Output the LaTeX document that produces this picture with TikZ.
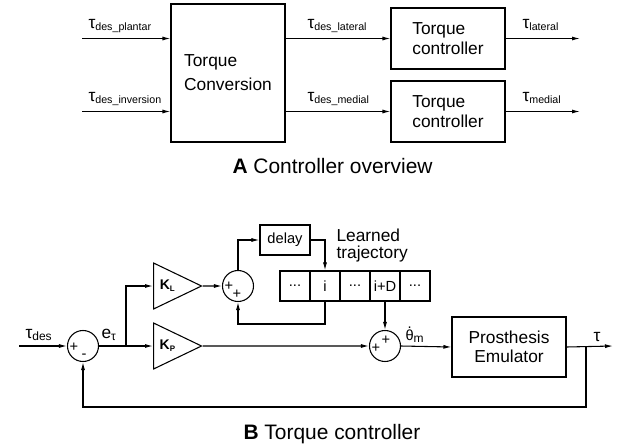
\documentclass[tikz,border=0pt]{standalone}
\usepackage{fontspec}
\setmainfont{Liberation Sans}
\usepackage{tikz}
\usetikzlibrary{arrows.meta,shapes.geometric}

% lowered subscript in a given size
\newcommand{\lsub}[2][8pt]{\raisebox{-1.5pt}{\fontsize{#1}{#1}\selectfont #2}}
% theta with a dot on top
\newcommand{\thdot}{\ooalign{θ\cr\hidewidth\raisebox{0.8em}{.}\hidewidth\cr}}

\begin{document}
\begin{tikzpicture}[x=0.75pt,y=0.75pt,yscale=-1,xscale=1,
  line width=0.8pt,
  >={Latex[length=6pt,width=3pt]},
  lbl/.style={inner sep=0pt, font=\fontsize{13pt}{15pt}\selectfont},
  blk/.style={draw, inner sep=0pt, minimum width=85.5pt},
  sumc/.style={draw, circle, minimum size=23.25pt, inner sep=0pt},
  sgn/.style={inner sep=0pt, font=\fontsize{11pt}{11pt}\selectfont},
  gain/.style={draw, isosceles triangle, isosceles triangle stretches,
    shape border rotate=0, minimum width=34.5pt, minimum height=36pt,
    inner sep=0pt, font=\fontsize{10.5pt}{12pt}\selectfont\bfseries},
  cell/.style={draw, minimum width=22.5pt, minimum height=22.5pt, inner sep=0pt,
    font=\fontsize{11pt}{13pt}\selectfont},
]
\useasboundingbox (0,0) rectangle (622,447);

%Shape: Rectangle
\node[blk, minimum height=103.5pt, align=left, font=\fontsize{13pt}{18pt}\selectfont] (conv) at (228,73) {Torque\\Conversion};
%Shape: Rectangle
\node[blk, minimum height=45.75pt, align=left, font=\fontsize{13pt}{15pt}\selectfont] (tcl) at (448,38.5) {Torque\\controller};
%Shape: Rectangle
\node[blk, minimum height=45.75pt, align=left, font=\fontsize{13pt}{15pt}\selectfont] (tcm) at (448,111.5) {Torque\\controller};

\coordinate (plantar) at (82,38.5);
\coordinate (inver) at (82,111.5);
\coordinate (latout) at (580,38.5);
\coordinate (medout) at (580,111.5);

%Straight Lines
\draw[->] (plantar) -- (plantar -| conv.west);
\draw[->] (inver) -- (inver -| conv.west);
\draw[->] (conv.east |- tcl.west) -- (tcl.west);
\draw[->] (conv.east |- tcm.west) -- (tcm.west);
\draw[->] (tcl.east) -- (latout);
\draw[->] (tcm.east) -- (medout);

% Text Node
\node[lbl, anchor=base west] (lplantar) at (88,28) {τ\lsub{des\_plantar}};
% Text Node
\node[lbl, anchor=base west] (linver) at (88,101) {τ\lsub{des\_inversion}};
% Text Node
\node[lbl, anchor=base west] (ldlat) at (307,28) {τ\lsub{des\_lateral}};
% Text Node
\node[lbl, anchor=base west] (ldmed) at (307,101) {τ\lsub{des\_medial}};
% Text Node
\node[lbl, anchor=base west] (llat) at (522,28) {τ\lsub{lateral}};
% Text Node
\node[lbl, anchor=base west] (lmed) at (522,101) {τ\lsub{medial}};
% Text Node
\node[lbl, anchor=base west, font=\fontsize{15.7pt}{18pt}\selectfont] (capa) at (232,173) {\textbf{A} Controller overview};

%Shape: Circle
\node[sumc] (s1) at (83,346) {};
\node[sgn] (s1p) at (74,347) {+};
\node[sgn] (s1m) at (84,356) {-};
%Shape: Triangle
\node[gain, anchor=west] (kl) at (153,286) {K\lsub[6pt]{L}};
%Shape: Triangle
\node[gain, anchor=west] (kp) at (153,346) {K\lsub[6pt]{P}};
%Shape: Circle
\node[sumc] (s2) at (238,286) {};
\node[sgn] (s2a) at (229,286) {+};
\node[sgn] (s2b) at (237,294) {+};
%Shape: Rectangle
\node[draw, minimum width=37.5pt, minimum height=22.5pt, inner sep=0pt, font=\fontsize{11pt}{13pt}\selectfont] (dly) at (285,240) {delay};
%Shape: Rectangle
\node[cell] (c1) at (295,286) {...};
\node[cell] (c2) at (325,286) {i};
\node[cell] (c3) at (355,286) {...};
\node[cell] (c4) at (385,286) {i+D};
\node[cell] (c5) at (415,286) {...};
%Shape: Circle
\node[sumc] (s3) at (385,346) {};
\node[sgn] (s3a) at (376,348) {+};
\node[sgn] (s3b) at (386,340) {+};
%Shape: Rectangle
\node[blk, minimum height=45pt, align=center, font=\fontsize{13pt}{14pt}\selectfont] (pe) at (509,347) {Prosthesis\\Emulator};

\coordinate (tdin) at (19,346);
\coordinate (br) at (126,346);
\coordinate (lp) at (325,324);
\coordinate (fb) at (586,346);
\coordinate (fbl) at (586,407);
\coordinate (tout) at (613,346);

%Straight Lines
\draw[->] (tdin) -- (s1.west);
\draw[->] (s1.east) -- (br) -- (kp.west);
\draw[->] (br) |- (kl.west);
\draw[->] (kl.apex) -- (s2.west);
\draw[->] (s2.north) |- (dly.west);
\draw[->] (dly.east) -| (c2.north);
\draw[->] (c2.south) -- (lp) -| (s2.south);
\draw[->] (c4.south) -- (s3.north);
\draw[->] (kp.apex) -- (s3.west);
\draw[->] (s3.east) -- (pe.west);
\draw[->] (pe.east) -- (tout);
\draw[->] (fb) -- (fbl) -| (s1.south);

% Text Node
\node[lbl, anchor=base west] (ltdes) at (25,338) {τ\lsub[9pt]{des}};
% Text Node
\node[lbl, anchor=base west] (lerr) at (101,338) {e\lsub[9pt]{τ}};
% Text Node
\node[lbl, anchor=north west, align=left, font=\fontsize{13pt}{12.75pt}\selectfont] (ltraj) at (336,228) {Learned\\trajectory};
% Text Node
\node[lbl, anchor=base west, font=\fontsize{11pt}{13pt}\selectfont] (lth) at (405,340) {\thdot\lsub[9pt]{m}};
% Text Node
\node[lbl, anchor=base west] (ltau) at (593,341) {τ};
% Text Node
\node[lbl, anchor=base west, font=\fontsize{15.7pt}{18pt}\selectfont] (capb) at (243,439) {\textbf{B} Torque controller};

\end{tikzpicture}
\end{document}
